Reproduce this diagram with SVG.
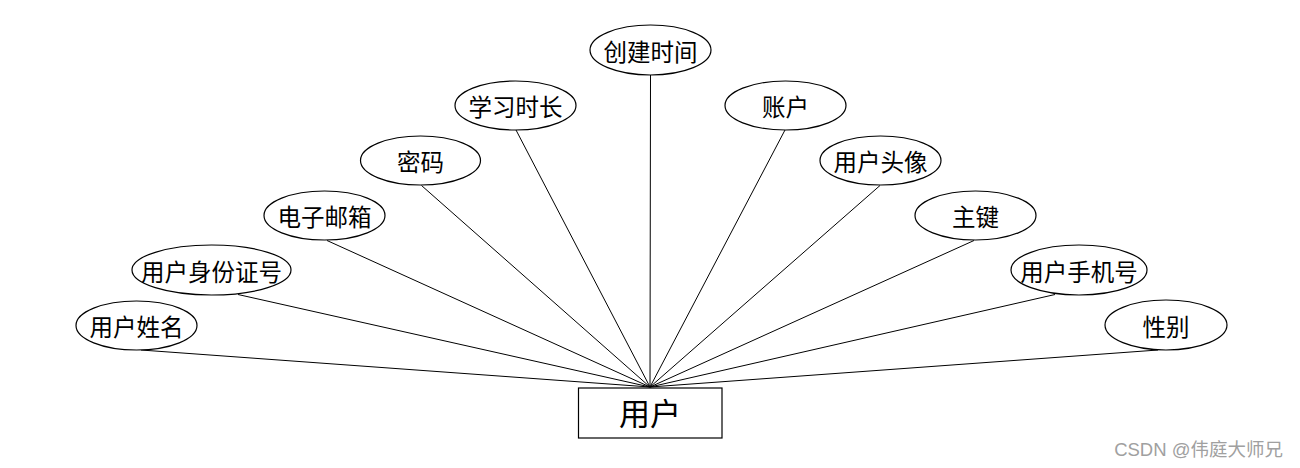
<svg xmlns="http://www.w3.org/2000/svg" width="1300" height="468" viewBox="0 0 1300 468">
<style>
.attr ellipse{fill:#fff;stroke:#000;stroke-width:1.2}
.lbl{font-family:"Liberation Sans","Noto Sans CJK SC",sans-serif;font-size:23.5px;fill:#000;text-anchor:middle}
.ent{fill:#fff;stroke:#000;stroke-width:1.2}
.big{font-family:"Liberation Sans","Noto Sans CJK SC",sans-serif;font-size:31px;fill:#000;text-anchor:middle}
#connectors line{stroke:#000;stroke-width:1}
.wm{font-family:"Liberation Sans","Noto Sans CJK SC",sans-serif;font-size:18.5px;fill:#a0a0a0;text-anchor:end}
</style>
<rect width="1300" height="468" fill="#fff"/>
<g id="connectors">
<line x1="650.5" y1="75" x2="650" y2="387"/>
<line x1="516" y1="130" x2="650" y2="387"/>
<line x1="785" y1="130" x2="650" y2="387"/>
<line x1="421.5" y1="185.5" x2="650" y2="387"/>
<line x1="880" y1="185.5" x2="650" y2="387"/>
<line x1="327" y1="240.5" x2="650" y2="387"/>
<line x1="974" y1="240.5" x2="650" y2="387"/>
<line x1="238" y1="294.5" x2="650" y2="387"/>
<line x1="1055" y1="294.5" x2="650" y2="387"/>
<line x1="141" y1="350" x2="650" y2="387"/>
<line x1="1158" y1="350" x2="650" y2="387"/>
</g>
<g id="node-chuangjianshijian" class="attr"><ellipse cx="650.5" cy="50" rx="60.5" ry="25"/><text class="lbl" x="650.5" y="60.5">创建时间</text></g>
<g id="node-xuexishichang" class="attr"><ellipse cx="515.5" cy="105.5" rx="60.5" ry="24.5"/><text class="lbl" x="515.5" y="116">学习时长</text></g>
<g id="node-zhanghu" class="attr"><ellipse cx="785.5" cy="105.5" rx="60.5" ry="24.5"/><text class="lbl" x="785.5" y="116">账户</text></g>
<g id="node-mima" class="attr"><ellipse cx="420.5" cy="160.5" rx="60" ry="24.5"/><text class="lbl" x="420.5" y="171">密码</text></g>
<g id="node-yonghutouxiang" class="attr"><ellipse cx="880.5" cy="160.5" rx="60.5" ry="24.5"/><text class="lbl" x="880.5" y="171">用户头像</text></g>
<g id="node-dianziyouxiang" class="attr"><ellipse cx="324.5" cy="215.5" rx="60.5" ry="24.5"/><text class="lbl" x="324.5" y="226">电子邮箱</text></g>
<g id="node-zhujian" class="attr"><ellipse cx="975.5" cy="215.5" rx="60.5" ry="24.5"/><text class="lbl" x="975.5" y="226">主键</text></g>
<g id="node-shenfenzheng" class="attr"><ellipse cx="211.5" cy="270" rx="79.5" ry="25"/><text class="lbl" x="211.5" y="280.5">用户身份证号</text></g>
<g id="node-shoujihao" class="attr"><ellipse cx="1079" cy="270" rx="68" ry="25"/><text class="lbl" x="1079" y="280.5">用户手机号</text></g>
<g id="node-xingming" class="attr"><ellipse cx="136.5" cy="325.5" rx="60.5" ry="24.5"/><text class="lbl" x="136.5" y="336">用户姓名</text></g>
<g id="node-xingbie" class="attr"><ellipse cx="1166" cy="325" rx="61" ry="25"/><text class="lbl" x="1166" y="335.5">性别</text></g>
<g id="node-yonghu"><rect class="ent" x="578.5" y="388" width="143.5" height="50"/><text class="big" x="650" y="424.5">用户</text></g>
<text class="wm" x="1283" y="456">CSDN @伟庭大师兄</text>
</svg>
